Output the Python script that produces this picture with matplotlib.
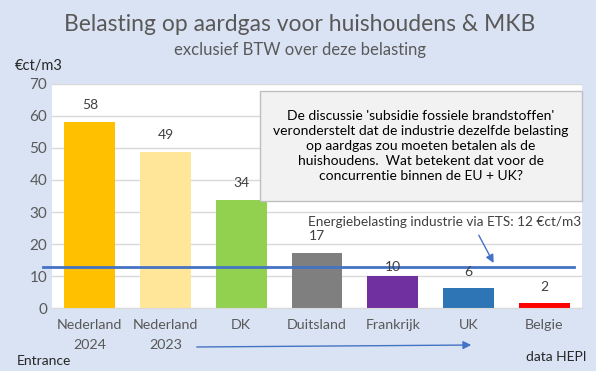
import matplotlib.pyplot as plt
from matplotlib.patches import FancyArrowPatch, Rectangle

plt.rcParams['font.family'] = ['Lato', 'DejaVu Sans']

# data
categories = ['Nederland\n2024', 'Nederland\n2023', 'DK', 'Duitsland', 'Frankrijk', 'UK', 'Belgie']
values = [58.2, 48.9, 33.8, 17.2, 10.1, 6.3, 1.7]
labels = ['58', '49', '34', '17', '10', '6', '2']
label_offsets = [5.2, 5.2, 5.2, 5.2, 2.7, 5.0, 5.0]
colors = ['#FFC000', '#FFE699', '#92D050', '#7F7F7F', '#7030A0', '#2E75B6', '#FF0000']
ets_level = 12.8

bg = '#DAE3F3'
fig = plt.figure(figsize=(5.96, 3.71), dpi=100, facecolor=bg)
ax = fig.add_axes([0.0872, 0.1698, 0.8893, 0.6038])
ax.set_facecolor('white')

x = list(range(len(categories)))
ax.bar(x, values, width=0.67, color=colors, zorder=2)
for xi, v, lab, off in zip(x, values, labels, label_offsets):
    ax.text(xi, v + off, lab, ha='center', va='center', fontsize=10, color='#404040', zorder=4)

ax.set_xlim(-0.5, 6.5)
ax.set_ylim(0, 70)
ax.set_yticks(range(0, 71, 10))
ax.yaxis.grid(True, color='#D9D9D9', linewidth=1, zorder=0)
ax.set_xticks(x)
ax.set_xticklabels(categories, color='#595959', linespacing=1.75)
ax.tick_params(axis='both', length=0, labelsize=11, colors='#595959')
ax.tick_params(axis='x', labelsize=10.3, pad=8)
for s in ['top', 'right', 'left']:
    ax.spines[s].set_visible(False)
ax.spines['bottom'].set_color('#D9D9D9')

# ETS line, extends a bit left of plot area
ax.plot([-0.62, 6.4], [ets_level, ets_level], color='#4472C4', linewidth=2, zorder=3, clip_on=False)

ax.text(2.88, 27.0, 'Energiebelasting industrie via ETS: 12 €ct/m3', fontsize=9.8,
        color='#404040', ha='left', va='center', zorder=4)
ax.annotate('', xy=(5.35, 13.3), xytext=(5.12, 23.5),
            arrowprops=dict(arrowstyle='-|>', color='#4472C4', lw=1, mutation_scale=12), zorder=4)

# note box
ax.add_patch(Rectangle((2.25, 33.4), 4.25, 34.4, facecolor='#F2F2F2', edgecolor='#BFBFBF',
                       linewidth=1, zorder=5, clip_on=False))
ax.text(4.37, 50.6, "De discussie 'subsidie fossiele brandstoffen'\n"
        "veronderstelt dat de industrie dezelfde belasting\n"
        "op aardgas zou moeten betalen als de\n"
        "huishoudens.  Wat betekent dat voor de\n"
        "concurrentie binnen de EU + UK?",
        ha='center', va='center', fontsize=10, color='black', linespacing=1.32, zorder=6)

fig.text(0.502, 0.935, 'Belasting op aardgas voor huishoudens & MKB', ha='center', va='center',
         fontsize=16.5, color='#595959')
fig.text(0.503, 0.865, 'exclusief BTW over deze belasting', ha='center', va='center',
         fontsize=12, color='#595959')
fig.text(0.025, 0.822, '€ct/m3', ha='left', va='center', fontsize=10.5, color='#262626')
fig.text(0.028, 0.027, 'Entrance', ha='left', va='center', fontsize=10, color='#262626')
fig.text(0.984, 0.038, 'data HEPI', ha='right', va='center', fontsize=10, color='#262626')

arr = FancyArrowPatch((194 / 596, 1 - 347 / 371), (474 / 596, 1 - 345 / 371), transform=fig.transFigure,
                      arrowstyle='-|>', color='#4472C4', lw=1, mutation_scale=12)
fig.patches.append(arr)

fig.savefig('out.png', dpi=100, facecolor=bg)
